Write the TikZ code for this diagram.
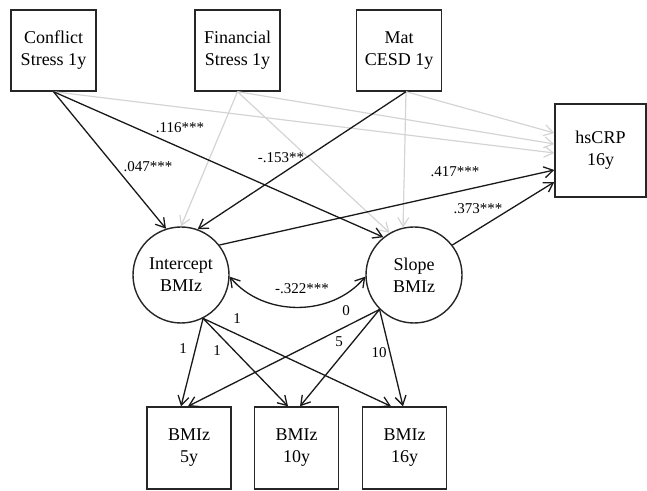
\documentclass[tikz,border=0pt]{standalone}
\usepackage{fontspec}
\setmainfont{Liberation Serif}
\usetikzlibrary{arrows.meta}

\tikzset{
  obs/.style={draw=black!85, line width=1.4pt, minimum width=85pt, minimum height=81pt,
    inner sep=0pt, align=center, font=\fontsize{18}{22}\selectfont},
  lat/.style={obs, circle, minimum size=96pt},
  sig/.style={->, draw=black!90, line width=1.3pt},
  ns/.style={->, draw=black!17, line width=1.2pt},
  coef/.style={inner sep=1pt, font=\fontsize{15}{18}\selectfont}
}

\begin{document}
\begin{tikzpicture}[x=1pt,y=1pt,>={Straight Barb[length=9pt,width=11pt]}]
\useasboundingbox (0,0) rectangle (647,490);

\node[obs] (conf) at (53.5,439.5) {Conflict\\Stress 1y};
\node[obs] (fin) at (237.5,439.5) {Financial\\Stress 1y};
\node[obs] (mat) at (399,439.5) {Mat\\CESD 1y};
\node[obs,minimum width=91pt,minimum height=93pt] (hs) at (600.5,339.5) {hsCRP\\16y};
\node[lat] (icpt) at (181,215) {Intercept\\BMIz};
\node[lat] (slp) at (414,215) {Slope\\BMIz};
\node[obs,minimum width=84pt,minimum height=82pt] (b5) at (189,42) {BMIz\\5y};
\node[obs,minimum width=84pt,minimum height=82pt] (b10) at (296.5,42) {BMIz\\10y};
\node[obs,minimum width=84pt,minimum height=82pt] (b16) at (404.5,42) {BMIz\\16y};
\coordinate (matout) at ([xshift=7]mat.south);

\draw[ns] (conf.south) -- ([yshift=-2.5]hs.west);
\draw[ns] (fin.south) -- ([yshift=6.5]hs.west);
\draw[ns] (matout) -- ([yshift=17.5]hs.west);
\draw[ns] (fin.south) -- (icpt.90);
\draw[ns] (fin.south) -- (slp.120);
\draw[ns] (matout) -- (slp.103);

\draw[sig] (conf.south) -- (icpt.108);
\draw[sig] (conf.south) -- (slp.129);
\draw[sig] (matout) -- (icpt.70);
\draw[sig] (icpt.38) -- ([yshift=-19.5]hs.west);
\draw[sig] (slp.38) -- ([yshift=-31.5]hs.west);
\draw[sig,<->] (icpt.-2) to[bend right=50] (slp.182);

\foreach \b/\dx in {b5/-8,b10/-8.5,b16/-13.5}
  \draw[sig] (icpt.-63) -- ([xshift=\dx]\b.north);
\foreach \b/\dx in {b5/-1,b10/3.5,b16/-1.5}
  \draw[sig] (slp.-135) -- ([xshift=\dx]\b.north);

\node[coef] (c047) at (148,323) {.047***};
\node[coef] (c116) at (180,362) {.116***};
\node[coef] (c153) at (281,332) {-.153**};
\node[coef] (c417) at (455,318) {.417***};
\node[coef] (c373) at (478,281) {.373***};
\node[coef] (c322) at (302,201) {-.322***};
\node[coef] (li5) at (183,141) {1};
\node[coef] (li10) at (217,139) {1};
\node[coef] (li16) at (237,171) {1};
\node[coef] (ls5) at (346,179) {0};
\node[coef] (ls10) at (339,148) {5};
\node[coef] (ls16) at (379,137) {10};
\end{tikzpicture}
\end{document}
